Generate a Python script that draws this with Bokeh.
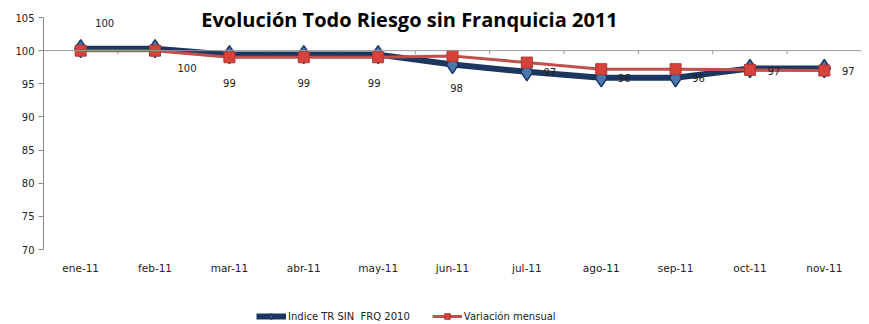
from bokeh.plotting import figure
from bokeh.models import Label, Legend, LegendItem, ColumnDataSource, Span, FixedTicker
from bokeh.transform import dodge
from bokeh.core.properties import value
from bokeh.embed import file_html
from bokeh.resources import INLINE

months = ["ene-11", "feb-11", "mar-11", "abr-11", "may-11", "jun-11",
          "jul-11", "ago-11", "sep-11", "oct-11", "nov-11"]
indice = [100.3, 100.3, 99.4, 99.4, 99.4, 97.9, 96.8, 95.9, 95.9, 97.3, 97.3]
variacion = [100.0, 100.0, 99.0, 99.0, 99.0, 99.2, 98.2, 97.2, 97.2, 97.1, 97.0]
labels = ["100", "100", "99", "99", "99", "98", "97", "96", "96", "97", "97"]
yticks = [70, 75, 80, 85, 90, 95, 100, 105]
y_min, y_max = 70, 105

# layout (pixels): axis 105 at y=17, 70 at y=249 in a 324 px tall canvas
H, TOP_PX, BOT_PX = 324, 17, 249
ppu = (BOT_PX - TOP_PX) / (y_max - y_min)
y_end = y_max + TOP_PX / ppu
y_start = y_min - (H - BOT_PX) / ppu

# label offsets (screen px, y down) relative to the indice points
lab_dx = [24, 32, 0, 0, -4, 4, 23, 23, 23, 24, 24]
lab_dy = [-26, 19, 28, 28, 28, 23, 0, 0, 0, 2, 2]

TXT = "#222222"
p = figure(width=869, height=H, x_range=months, y_range=(y_start, y_end),
           output_backend="svg", toolbar_location=None,
           min_border_left=43, min_border_right=8, min_border_top=0,
           min_border_bottom=0)
p.outline_line_color = None
p.xgrid.grid_line_color = None
p.ygrid.grid_line_color = None
p.background_fill_color = "white"
p.border_fill_color = "white"

p.yaxis.ticker = FixedTicker(ticks=yticks)
p.yaxis.bounds = (y_min, y_max)
p.yaxis.axis_line_color = "#888888"
p.yaxis.major_tick_line_color = "#888888"
p.yaxis.major_tick_in = 0
p.yaxis.major_tick_out = 5
p.yaxis.minor_tick_line_color = None
p.yaxis.major_label_text_font = "DejaVu Sans"
p.yaxis.major_label_text_font_size = "10px"
p.yaxis.major_label_text_color = TXT
p.yaxis.major_label_standoff = 4

p.xaxis.visible = False

# category labels under the plot area
src_c = ColumnDataSource(dict(m=months))
p.text(x="m", y=y_min, text="m", source=src_c, y_offset=18,
       text_align="center", text_baseline="middle",
       text_font=value("DejaVu Sans"), text_font_size="10.5px", text_color=TXT)

# horizontal category axis line crossing at 100
p.add_layout(Span(location=100, dimension="width", line_color="#999999", line_width=1))
src_t = ColumnDataSource(dict(m=months[1:], y0=[100] * 10, y1=[99.45] * 10))
p.segment(x0=dodge("m", -0.5, range=p.x_range), x1=dodge("m", -0.5, range=p.x_range),
          y0="y0", y1="y1", source=src_t, line_color="#999999", line_width=1)

src = ColumnDataSource(dict(m=months, a=indice, b=variacion, lab=labels,
                            dx=lab_dx, dy=lab_dy))

r1l = p.line("m", "a", source=src, line_color="#1B365F", line_width=6, line_join="round")
r1m = p.scatter("m", "a", source=src, marker="diamond", size=18,
                fill_color="#4A77B0", line_color="#1B365F", line_width=1.5)
r2l = p.line("m", "b", source=src, line_color="#C0504D", line_width=3)
r2m = p.scatter("m", "b", source=src, marker="square", size=11,
                fill_color="#D9413B", line_color="#A83A36", line_width=1)

p.text(x="m", y="a", text="lab", source=src, x_offset="dx", y_offset="dy",
       text_align="center", text_baseline="middle",
       text_font=value("DejaVu Sans"), text_font_size="10px", text_color=TXT)

p.add_layout(Label(x=366, y=H - 19, x_units="screen", y_units="screen",
                   text="Evolución Todo Riesgo sin Franquicia 2011",
                   text_font="Open Sans", text_font_style="bold",
                   text_font_size="20px", text_color="#000000",
                   text_align="center", text_baseline="middle"))

legend = Legend(items=[LegendItem(label="Indice TR SIN  FRQ 2010", renderers=[r1l, r1m]),
                       LegendItem(label="Variación mensual", renderers=[r2l, r2m])],
                orientation="horizontal", location=(213, 1),
                border_line_color=None, background_fill_alpha=0,
                label_text_font="DejaVu Sans", label_text_font_size="10px",
                label_text_color=TXT, glyph_width=30, glyph_height=14,
                spacing=22, padding=2, label_standoff=2)
p.add_layout(legend)

open("out.html", "w").write(file_html(p, INLINE))
